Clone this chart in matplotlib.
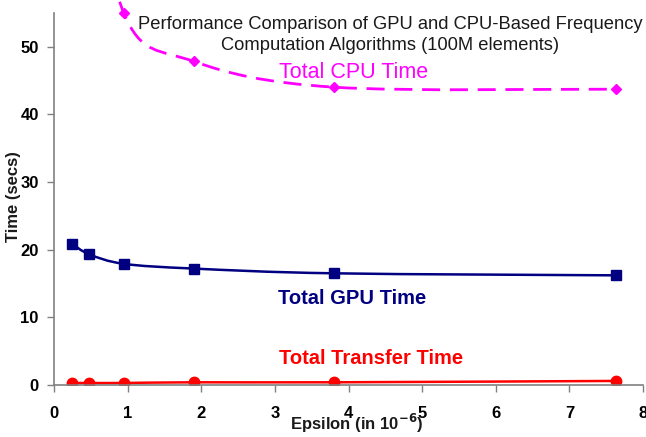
import numpy as np
import matplotlib
matplotlib.use("Agg")
import matplotlib.pyplot as plt
from matplotlib.path import Path
from matplotlib.patches import PathPatch

plt.rcParams['font.family'] = ['Liberation Sans', 'DejaVu Sans']

# Data
epsilon = [0.24, 0.48, 0.95, 1.9, 3.8, 7.63]
gpu_time = [20.9, 19.3, 17.9, 17.2, 16.5, 16.2]
transfer_time = [0.3, 0.3, 0.3, 0.4, 0.4, 0.6]
cpu_time = [130.0, 85.0, 54.9, 47.8, 44.0, 43.7]

x_ticks = [0, 1, 2, 3, 4, 5, 6, 7, 8]
y_ticks = [0, 10, 20, 30, 40, 50]

title = "Performance Comparison of GPU and CPU-Based Frequency\nComputation Algorithms (100M elements)"


def smooth_path(xs, ys):
    pts = np.column_stack([xs, ys]).astype(float)
    n = len(pts)
    verts = [pts[0]]
    codes = [Path.MOVETO]
    for i in range(n - 1):
        p_prev = pts[i - 1] if i > 0 else pts[i]
        p0 = pts[i]
        p1 = pts[i + 1]
        p_next = pts[i + 2] if i + 2 < n else pts[i + 1]
        c1 = p0 + (p1 - p_prev) / 6.0
        c2 = p1 - (p_next - p0) / 6.0
        verts += [c1, c2, p1]
        codes += [Path.CURVE4] * 3
    return Path(verts, codes)


fig = plt.figure(figsize=(6.46, 4.37), dpi=100)
ax = fig.add_axes([54 / 646, 1 - 385 / 437, (643 - 54) / 646, (385 - 12.7) / 437])

# GPU
ax.add_patch(PathPatch(smooth_path(epsilon, gpu_time), fill=False,
                       edgecolor='#000080', lw=1.8))
ax.plot(epsilon, gpu_time, ls='none', marker='s', ms=7, color='#000080')

# Transfer
ax.add_patch(PathPatch(smooth_path(epsilon, transfer_time), fill=False,
                       edgecolor='#FF0000', lw=1.8))
ax.plot(epsilon, transfer_time, ls='none', marker='o', ms=7.5, color='#FF0000')

# CPU (dashed, extends beyond plot top)
ax.add_patch(PathPatch(smooth_path(epsilon, cpu_time), fill=False,
                       edgecolor='#FF00FF', lw=2.0, ls=(0, (6.5, 3.5)),
                       clip_on=False))
ax.plot(epsilon, cpu_time, ls='none', marker='D', ms=5, color='#FF00FF',
        clip_on=False)

ax.set_xlim(0, 8)
ax.set_ylim(0, 55)
ax.set_xticks(x_ticks)
ax.set_yticks(y_ticks)
ax.set_xticklabels([str(t) for t in x_ticks], fontsize=12, fontweight='bold')
ax.set_yticklabels([str(t) for t in y_ticks], fontsize=12, fontweight='bold')
ax.tick_params(axis='x', length=5, width=1, color='#808080', pad=10)
ax.tick_params(axis='y', length=5, width=1, color='#808080', pad=6)

for s in ['top', 'right']:
    ax.spines[s].set_visible(False)
for s in ['left', 'bottom']:
    ax.spines[s].set_color('#808080')
    ax.spines[s].set_linewidth(1.2)

fig.text(390 / 646, 1 - 35 / 437, title, ha='center', va='center',
         fontsize=13.2, linespacing=1.25, color='#1a1a1a')
fig.text(354 / 646, 1 - 73 / 437, "Total CPU Time", ha='center', va='center',
         fontsize=15.5, color='#FF00FF')
fig.text(352 / 646, 1 - 298 / 437, "Total GPU Time", ha='center', va='center',
         fontsize=14.5, fontweight='bold', color='#000080')
fig.text(371 / 646, 1 - 359 / 437, "Total Transfer Time", ha='center', va='center',
         fontsize=14.5, fontweight='bold', color='#FF0000')
fig.text(357 / 646, 1 - 423 / 437, r"Epsilon (in 10$^{\mathbf{-6}}$)", ha='center',
         va='center', fontsize=12, fontweight='bold', color='#1a1a1a')
fig.text(14 / 646, 1 - 197 / 437, "Time (secs)", ha='center', va='center',
         rotation=90, fontsize=12, fontweight='bold', color='#1a1a1a')

fig.savefig("out.png", dpi=100)
